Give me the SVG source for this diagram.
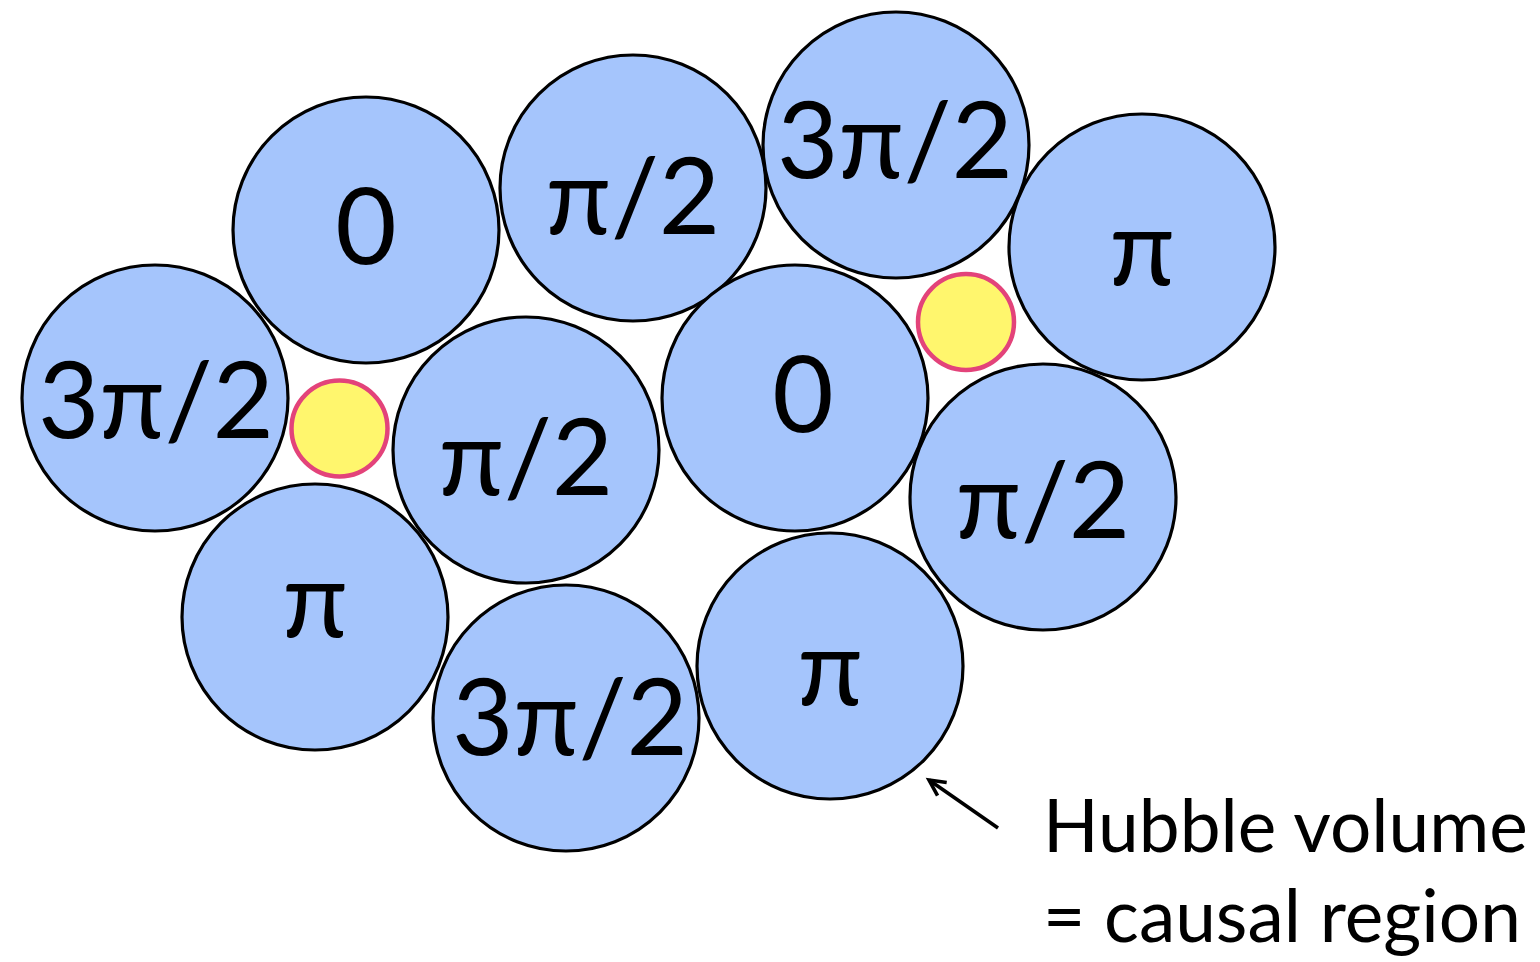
<svg xmlns="http://www.w3.org/2000/svg" width="1540" height="962" viewBox="0 0 1540 962">
<style>
.hv{fill:#a5c5fc;stroke:#000;stroke-width:3.2}
.y{fill:#fff66d;stroke:#e3437a;stroke-width:4.5}
.lb{font-family:Lato,"Open Sans",sans-serif;font-size:106px;fill:#000;text-anchor:middle}
.cap{font-family:Lato,"Open Sans",sans-serif;font-size:73px;fill:#000}
</style>
<defs>
<marker id="ah" markerWidth="26" markerHeight="26" refX="20" refY="13" orient="auto" markerUnits="userSpaceOnUse">
<path d="M4,5 L20,13 L4,21" fill="none" stroke="#000" stroke-width="3.6"/>
</marker>
</defs>
<g id="n1"><circle class="hv" cx="366" cy="230" r="133"/><text class="lb" x="366" y="264">0</text></g>
<g id="n2"><circle class="hv" cx="633" cy="188" r="133"/><text class="lb" x="633" y="234">π/2</text></g>
<g id="n3"><circle class="hv" cx="896" cy="145" r="133"/><text class="lb" x="895" y="178">3π/2</text></g>
<g id="n4"><circle class="hv" cx="1142" cy="247" r="133"/><text class="lb" x="1142" y="285">π</text></g>
<g id="n5"><circle class="hv" cx="155" cy="398" r="133"/><text class="lb" x="156" y="438">3π/2</text></g>
<g id="n6"><circle class="hv" cx="526" cy="450" r="133"/><text class="lb" x="526" y="495">π/2</text></g>
<g id="n7"><circle class="hv" cx="795" cy="398" r="133"/><text class="lb" x="803" y="432">0</text></g>
<g id="n8"><circle class="hv" cx="1043" cy="497" r="133"/><text class="lb" x="1043" y="538">π/2</text></g>
<g id="n9"><circle class="hv" cx="315" cy="617" r="133"/><text class="lb" x="315" y="637">π</text></g>
<g id="n10"><circle class="hv" cx="566" cy="718" r="133"/><text class="lb" x="570" y="755">3π/2</text></g>
<g id="n11"><circle class="hv" cx="830" cy="666" r="133"/><text class="lb" x="830" y="705">π</text></g>
<g id="y1"><circle class="y" cx="339.5" cy="428.5" r="48"/></g>
<g id="y2"><circle class="y" cx="966" cy="322" r="48"/></g>
<g id="connectors">
<line x1="998" y1="828" x2="929" y2="780" stroke="#000" stroke-width="3.6" marker-end="url(#ah)"/>
</g>
<g id="label">
<text class="cap" x="1043" y="852">Hubble volume</text>
<text class="cap" x="1043" y="942">= causal region</text>
</g>
</svg>
